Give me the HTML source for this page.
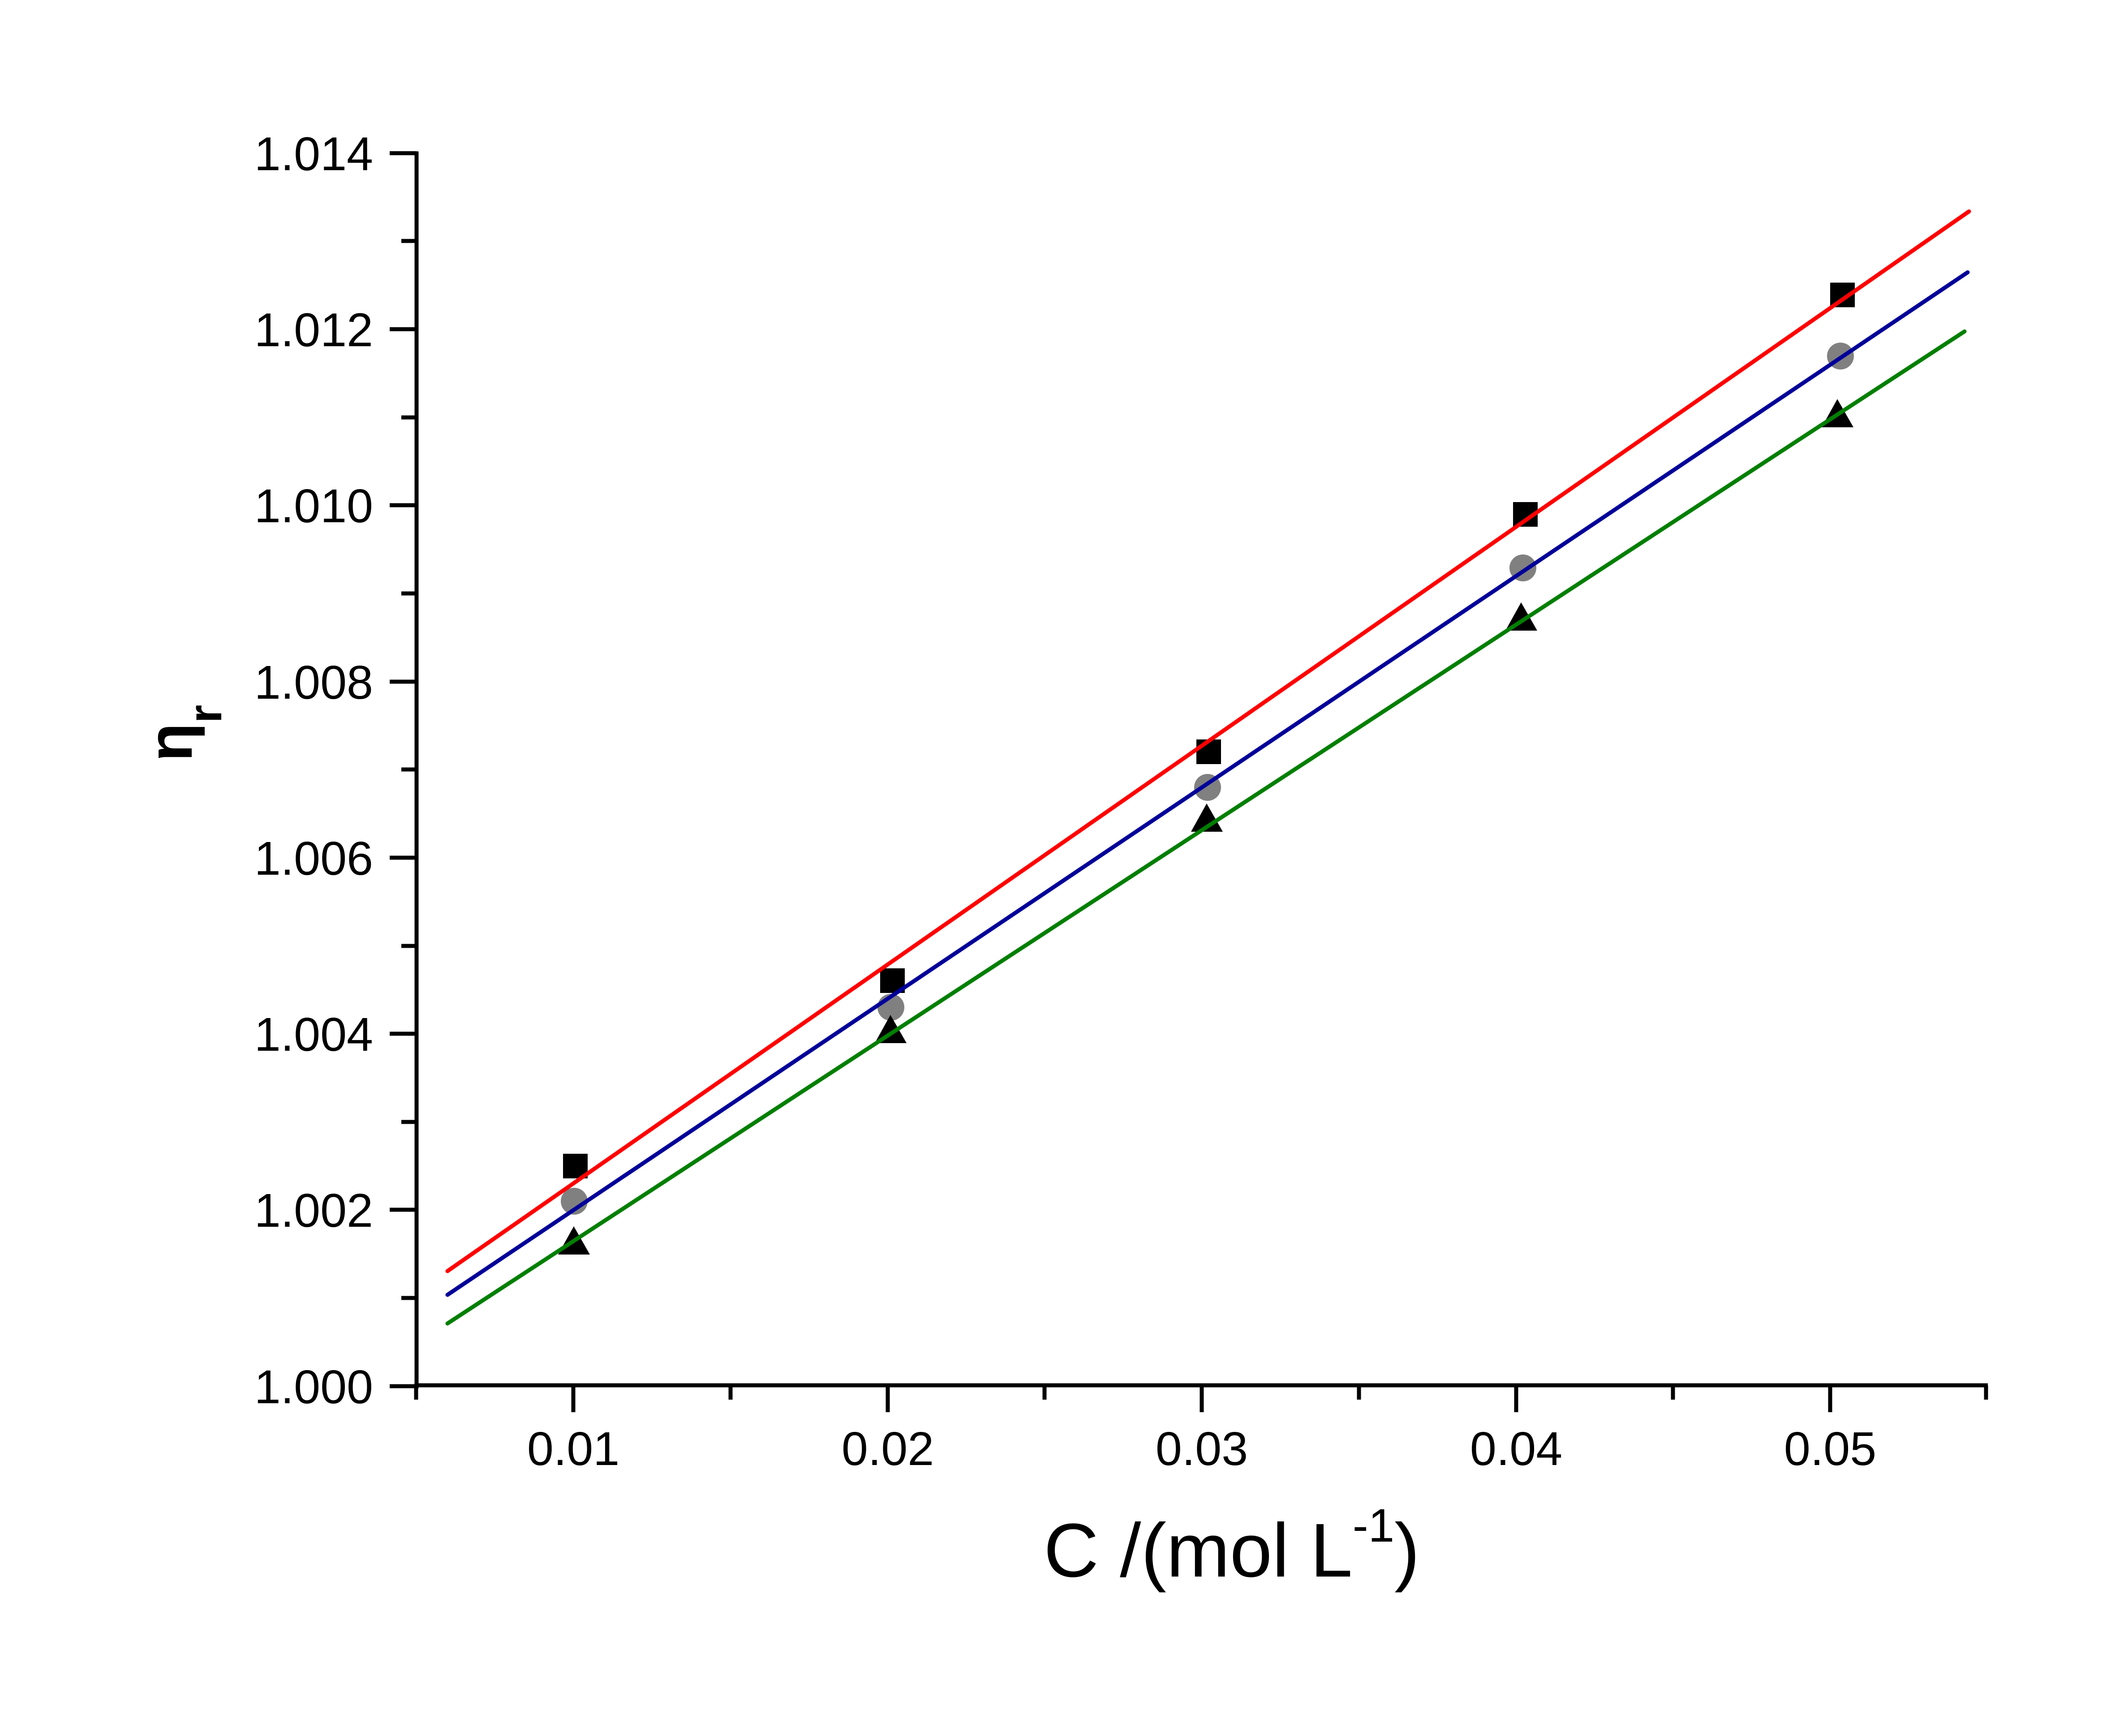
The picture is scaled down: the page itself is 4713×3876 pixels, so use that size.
<!DOCTYPE html>
<html><head><meta charset="utf-8"><style>html,body{margin:0;padding:0;background:#fff}svg{display:block}</style></head>
<body>
<svg xmlns="http://www.w3.org/2000/svg" width="4713" height="3876" viewBox="0 0 4713 3876" font-family="Liberation Sans, sans-serif">
<rect width="4713" height="3876" fill="#fff"/>
<g stroke="#000" stroke-width="9" fill="none">
<line x1="930" y1="338" x2="930" y2="3100"/>
<line x1="925" y1="3093" x2="4438" y2="3093"/>
<!-- y major ticks -->
<path d="M870 342H930M870 735H930M870 1128H930M870 1522H930M870 1915H930M870 2308H930M870 2701H930M870 3095H930"/>
<!-- y minor ticks -->
<path d="M896 538H930M896 932H930M896 1325H930M896 1718H930M896 2112H930M896 2505H930M896 2898H930"/>
<!-- x major ticks -->
<path d="M1280 3093V3153M1982 3093V3153M2683 3093V3153M3385 3093V3153M4086 3093V3153"/>
<!-- x minor ticks -->
<path d="M929 3093V3125M1631 3093V3125M2332 3093V3125M3034 3093V3125M3735 3093V3125M4434 3093V3125"/>
</g>
<g font-size="106" text-anchor="end" fill="#000">
<text x="833" y="380">1.014</text>
<text x="833" y="773">1.012</text>
<text x="833" y="1166">1.010</text>
<text x="833" y="1560">1.008</text>
<text x="833" y="1953">1.006</text>
<text x="833" y="2346">1.004</text>
<text x="833" y="2739">1.002</text>
<text x="833" y="3133">1.000</text>
</g>
<g font-size="106" text-anchor="middle" fill="#000">
<text x="1280" y="3271">0.01</text>
<text x="1982" y="3271">0.02</text>
<text x="2683" y="3271">0.03</text>
<text x="3385" y="3271">0.04</text>
<text x="4086" y="3271">0.05</text>
</g>
<text x="2750" y="3520" font-size="170" text-anchor="middle" fill="#000">C /(mol L<tspan font-size="105" dy="-78">-1</tspan><tspan dy="78">)</tspan></text>
<text transform="translate(428,1700) rotate(-90)" font-size="140" font-weight="bold" fill="#000">η<tspan font-size="105" dy="66">r</tspan></text>
<!-- markers -->
<g fill="#000">
<rect x="1257" y="2576" width="55" height="55"/>
<rect x="1965" y="2162" width="55" height="55"/>
<rect x="2671" y="1651" width="55" height="55"/>
<rect x="3378" y="1121" width="55" height="55"/>
<rect x="4086" y="631" width="55" height="55"/>
</g>
<g fill="#808080">
<circle cx="1282" cy="2682" r="30"/>
<circle cx="1989" cy="2249" r="30"/>
<circle cx="2696" cy="1758" r="30"/>
<circle cx="3400" cy="1268" r="30"/>
<circle cx="4109" cy="795" r="30"/>
</g>
<g fill="#000">
<polygon points="1281,2738 1246,2801 1317,2801"/>
<polygon points="1988,2266 1953,2329 2024,2329"/>
<polygon points="2694,1794 2659,1857 2730,1857"/>
<polygon points="3396,1345 3361,1408 3432,1408"/>
<polygon points="4102,891 4067,954 4138,954"/>
</g>
<g stroke-width="9" stroke-linecap="round">
<line x1="999" y1="2838" x2="4396" y2="472" stroke="#ff0000"/>
<line x1="999" y1="2891" x2="4393" y2="608" stroke="#000099"/>
<line x1="999" y1="2955" x2="4386" y2="740" stroke="#007f00"/>
</g>
</svg>
</body></html>
